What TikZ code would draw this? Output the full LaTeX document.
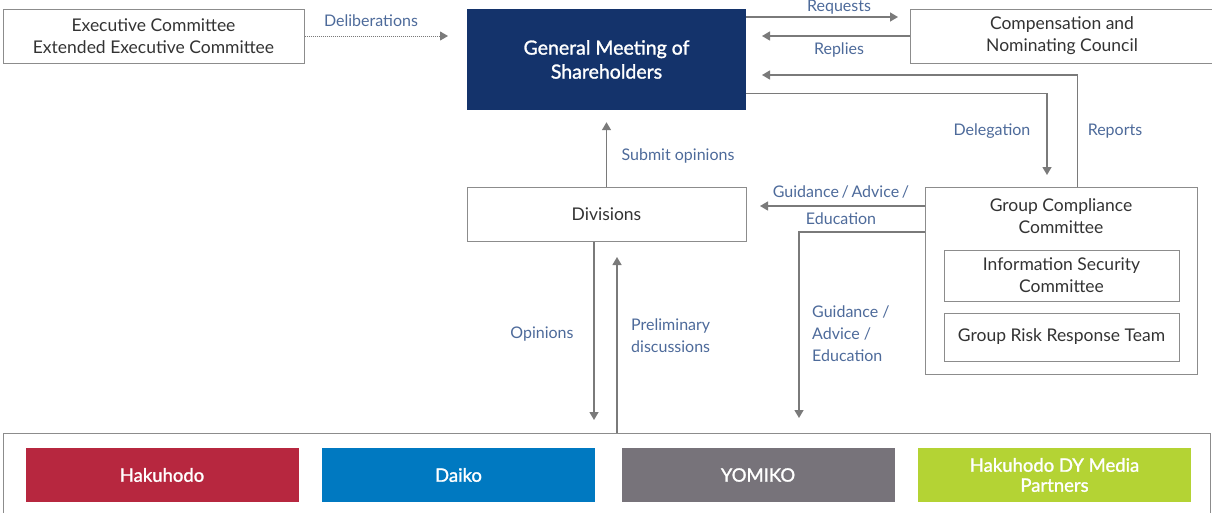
\documentclass[tikz,border=0pt]{standalone}
\usepackage{fontspec}
\setmainfont{Lato}
\newfontfamily\medfont[FakeBold=1.4]{Lato}
\usepackage{xcolor}
\usetikzlibrary{positioning,calc,arrows.meta}

\definecolor{navy}{HTML}{14336B}
\definecolor{linegray}{HTML}{7A7A7A}
\definecolor{boxgray}{HTML}{8C8C8C}
\definecolor{labelblue}{HTML}{4D6A9A}
\definecolor{txtgray}{HTML}{333333}
\definecolor{hakured}{HTML}{B7273F}
\definecolor{daikoblue}{HTML}{0079C1}
\definecolor{yomigray}{HTML}{77737A}
\definecolor{dylime}{HTML}{B4D334}

\begin{document}
\begin{tikzpicture}[x=1pt, y=-1pt]
	\tikzset{
		unit/.style={draw=boxgray, line width=1pt, fill=white, text=txtgray, align=center, inner sep=0pt, font=\fontsize{17.5}{22}\selectfont},
		company/.style={inner sep=0pt, minimum width=273, minimum height=54, text=white, align=center, font=\medfont\fontsize{18.5}{20}\selectfont},
		link/.style={draw=linegray, line width=1.4pt, -{Triangle[length=8pt, width=9pt]}},
		tag/.style={text=labelblue, font=\fontsize{16}{22}\selectfont, inner sep=0pt}
	}
	\clip (0,0) rectangle (1212,512);
	
	% ---- top row ----
	\node[unit, minimum width=301, minimum height=54] (exec) at (153.5,36) {Executive Committee\\Extended Executive Committee};
	\node[fill=navy, minimum width=279, minimum height=101, inner sep=0pt, text=white, align=center,
		font=\medfont\fontsize{19.5}{24}\selectfont] (gm) at (606.5,59.5) {General Meeting of\\Shareholders};
	\node[unit, minimum width=304, minimum height=54] (comp) at (1062,36) {Compensation and\\Nominating Council};
	
	% ---- middle row ----
	\node[unit, minimum width=279, minimum height=54] (div) at (606.5,214) {Divisions};
	\node[unit, minimum width=272, minimum height=187, anchor=north west] (gcc) at (925,187) {};
	\node[text=txtgray, align=center, font=\fontsize{17.5}{22}\selectfont] (gcctitle) at (1061,216) {Group Compliance\\Committee};
	\node[unit, minimum width=235, minimum height=51] (infosec) at (1061.5,275.5) {Information Security\\Committee};
	\node[unit, minimum width=235, minimum height=48] (risk) at (1061.5,337) {Group Risk Response Team};
	
	% ---- group companies ----
	\node[unit, minimum width=1207, minimum height=110, anchor=north west] (cos) at (3,433) {};
	\node[company, fill=hakured] (hakuhodo) at (162,475) {Hakuhodo};
	\node[company, fill=daikoblue] (daiko) at (458.5,475) {Daiko};
	\node[company, fill=yomigray] (yomiko) at (758,475) {YOMIKO};
	\node[company, fill=dylime] (dymp) at (1054.5,475) {Hakuhodo DY Media\\Partners};
	
	% ---- free arrow ends ----
	\coordinate (dlb) at (448,36);
	\coordinate (req) at (898,17);
	\coordinate (rep) at (762,36);
	\coordinate (rpt) at (762,75);
	\coordinate (dlg) at (1047,175);
	\coordinate (g1) at (760,206);
	\coordinate (g2) at (799,418);
	\coordinate (op) at (594,420);
	\coordinate (pre) at (617,257);
	
	% ---- connectors ----
	\draw[link, line width=1pt, densely dotted] (exec.east) -- (dlb);
	\draw[link] (gm.east |- req) -- (req);
	\draw[link] (comp.west |- rep) -- (rep);
	\draw[link] ([xshift=16pt]gcc.north) |- (rpt);
	\draw[link] ([yshift=17pt]gm.south east) -| (dlg);
	\draw[link] (div.north) -- ([yshift=-12pt]gm.south);
	\draw[link] ([yshift=-19pt]gcc.north west) -- (g1);
	\draw[link] ([yshift=-45pt]gcc.north west) -| (g2);
	\draw[link] (div.south -| op) -- (op);
	\draw[link] (cos.north -| pre) -- (pre);
	
	% ---- labels ----
	\node[tag] (tdlb) at (371,21) {Deliberations};
	\node[tag] (treq) at (839,7) {Requests};
	\node[tag] (trep) at (839,50) {Replies};
	\node[tag] (tdlg) at (992,131) {Delegation};
	\node[tag] (trpt) at (1115,131) {Reports};
	\node[tag] (tsub) at (678,156) {Submit opinions};
	\node[tag] (tg1a) at (841,192) {Guidance\,/\,Advice\,/};
	\node[tag] (tg1b) at (841,219) {Education};
	\node[tag, align=left, anchor=west] (tg2) at (812,334) {Guidance /\\Advice /\\Education};
	\node[tag] (top) at (542,334) {Opinions};
	\node[tag, align=left, anchor=west] (tpre) at (631,335.5) {Preliminary\\discussions};
\end{tikzpicture}
\end{document}
